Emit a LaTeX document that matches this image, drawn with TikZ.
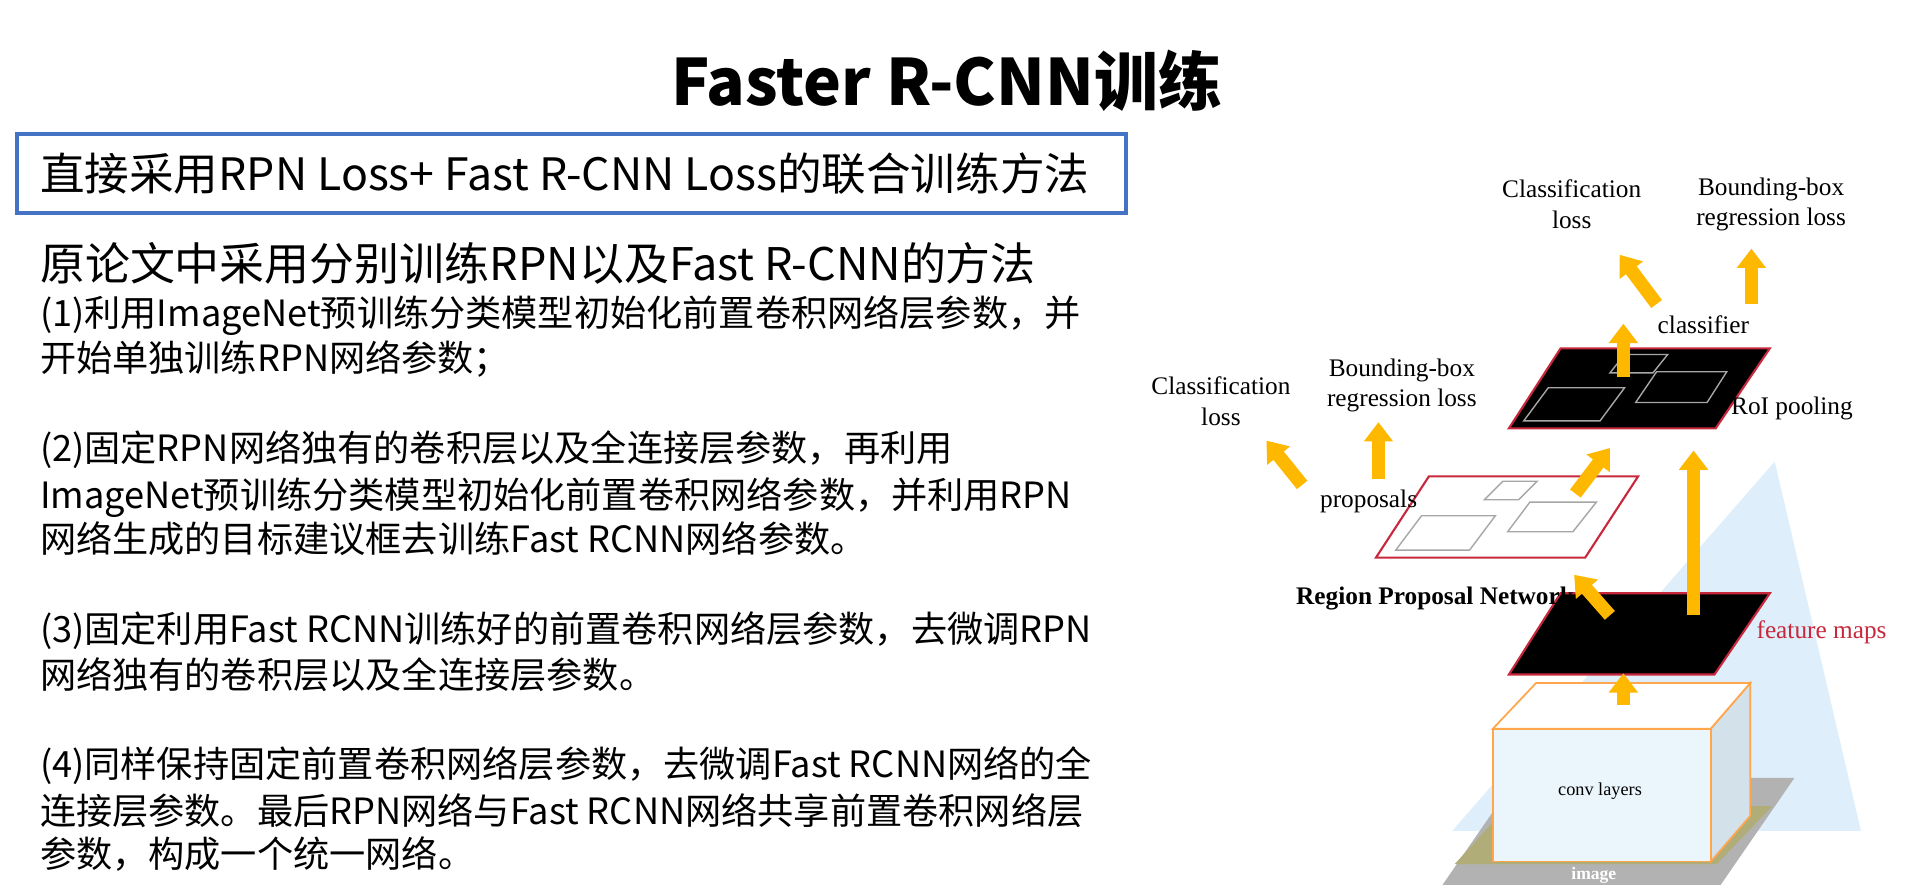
\documentclass[tikz,border=0pt]{standalone}
\usepackage{fontspec}
\setmainfont{Liberation Serif}
\newfontfamily\cjk{Noto Sans CJK SC}
\usepackage{tikz}
\usetikzlibrary{arrows.meta,positioning}
\definecolor{boxblue}{RGB}{68,114,196}
\definecolor{flow}{RGB}{255,184,0}
\definecolor{skyb}{RGB}{222,238,250}
\definecolor{planered}{RGB}{200,40,60}

\begin{document}
\begin{tikzpicture}[x=0.012308cm,y=-0.012308cm,
        body/.style={anchor=west, inner sep=0pt, font=\cjk\fontsize{10.3}{12}\selectfont},
        paper/.style={font=\fontsize{7.2}{8.6}\selectfont, align=center, inner sep=1pt},
        flow_arrow/.style={-{Triangle[width=8pt,length=5.5pt]}, flow, line width=3.8pt},
        dark_plane/.style={fill=black, draw=planered, line width=0.6pt},
        inner_box/.style={draw=gray!70, line width=0.4pt}
    ]
    \useasboundingbox (0,0) rectangle (1560,719);

    % Title
    \node[font=\cjk\bfseries\fontsize{18.2}{20}\selectfont] (title) at (769,66) {Faster R-CNN训练};

    % Box
    \draw[boxblue, line width=1pt] (14,109) rectangle (915,173);
    \node[anchor=west, inner sep=0pt, font=\cjk\fontsize{12.7}{14}\selectfont] (joint) at (32,141)
        {直接采用RPN Loss+ Fast R-CNN Loss的联合训练方法};

    % Steps
    \node[anchor=west, inner sep=0pt, font=\cjk\fontsize{12.8}{14}\selectfont] (orig) at (32,214)
        {原论文中采用分别训练RPN以及Fast R-CNN的方法};
    \node[body] (s1a) at (32,256) {(1)利用ImageNet预训练分类模型初始化前置卷积网络层参数，并};
    \node[body] (s1b) at (32,292) {开始单独训练RPN网络参数；};
    \node[body] (s2a) at (32,365) {(2)固定RPN网络独有的卷积层以及全连接层参数，再利用};
    \node[body] (s2b) at (32,404) {ImageNet预训练分类模型初始化前置卷积网络参数，并利用RPN};
    \node[body] (s2c) at (32,438) {网络生成的目标建议框去训练Fast RCNN网络参数。};
    \node[body] (s3a) at (32,512) {(3)固定利用Fast RCNN训练好的前置卷积网络层参数，去微调RPN};
    \node[body] (s3b) at (32,548) {网络独有的卷积层以及全连接层参数。};
    \node[body] (s4a) at (32,622) {(4)同样保持固定前置卷积网络层参数，去微调Fast RCNN网络的全};
    \node[body] (s4b) at (32,659) {连接层参数。最后RPN网络与Fast RCNN网络共享前置卷积网络层};
    \node[body] (s4c) at (32,694) {参数，构成一个统一网络。};

    % Backdrop: field of view and input image
    \fill[skyb] (1442,375) -- (1512,675) -- (1180,675) -- cycle;
    \fill[gray!60] (1172,719) -- (1398,719) -- (1458,632) -- (1232,632) -- cycle;
    \fill[olive!45!gray!70] (1182,702) -- (1395,702) -- (1440,655) -- (1225,655) -- cycle;
    \node[font=\bfseries\fontsize{5}{6}\selectfont, text=white] (img) at (1295,711) {image};

    % Conv layers
    \draw[orange!70, fill=gray!12!skyb, line width=0.5pt] (1390,592) -- (1422,555) -- (1422,663) -- (1390,700) -- cycle;
    \draw[orange!70, fill=white, line width=0.5pt] (1213,592) -- (1248,555) -- (1422,555) -- (1390,592) -- cycle;
    \draw[orange!70, fill=skyb!60, line width=0.5pt] (1213,592) rectangle (1390,700);
    \node[font=\fontsize{5.2}{6}\selectfont] (conv) at (1300,643) {conv layers};

    % Feature maps
    \draw[dark_plane] (1226,548) -- (1393,548) -- (1438,482) -- (1268,482) -- cycle;
    \node[text=planered, font=\fontsize{7.2}{8}\selectfont] (fmap) at (1480,514) {feature maps};

    % Proposals
    \draw[fill=white, draw=planered, line width=0.6pt] (1118,453) -- (1288,453) -- (1331,387) -- (1161,387) -- cycle;
    \draw[inner_box] (1134,447) -- (1194,447) -- (1215,419) -- (1155,419) -- cycle;
    \draw[inner_box] (1225,432) -- (1278,432) -- (1297,408) -- (1243,408) -- cycle;
    \draw[inner_box] (1206,406) -- (1234,406) -- (1249,391) -- (1221,391) -- cycle;
    \node[paper] (prop) at (1112,407) {proposals};
    \node[paper, font=\bfseries\fontsize{7.2}{8}\selectfont] (rpn) at (1166,486) {Region Proposal Network};

    % RoI pooling
    \draw[dark_plane] (1226,348) -- (1394,348) -- (1438,283) -- (1268,283) -- cycle;
    \draw[inner_box] (1238,342) -- (1300,342) -- (1320,315) -- (1258,315) -- cycle;
    \draw[inner_box] (1329,327) -- (1387,327) -- (1403,302) -- (1346,302) -- cycle;
    \draw[inner_box] (1308,303) -- (1343,303) -- (1355,288) -- (1320,288) -- cycle;
    \node[paper] (roi) at (1456,332) {RoI pooling};
    \node[paper] (cls) at (1384,264) {classifier};

    % Losses
    \node[paper] (rpncls) at (992,326) {Classification\\loss};
    \node[paper] (rpnreg) at (1139,313) {Bounding-box\\regression loss};
    \node[paper] (fcls) at (1277,166) {Classification\\loss};
    \node[paper] (freg) at (1439,166) {Bounding-box\\regression loss};

    % Arrows
    \coordinate (a1) at (1319,573); \coordinate (a1e) at (1319,547);
    \draw[flow_arrow] (a1) -- (a1e);
    \coordinate (a2) at (1308,500); \coordinate (a2e) at (1279,467);
    \draw[flow_arrow] (a2) -- (a2e);
    \coordinate (a3) at (1376,500); \coordinate (a3e) at (1376,366);
    \draw[flow_arrow] (a3) -- (a3e);
    \coordinate (a4) at (1280,401); \coordinate (a4e) at (1308,364);
    \draw[flow_arrow] (a4) -- (a4e);
    \coordinate (a5) at (1058,394); \coordinate (a5e) at (1029,358);
    \draw[flow_arrow] (a5) -- (a5e);
    \coordinate (a6) at (1120,389); \coordinate (a6e) at (1120,343);
    \draw[flow_arrow] (a6) -- (a6e);
    \coordinate (a7) at (1319,306); \coordinate (a7e) at (1319,263);
    \draw[flow_arrow] (a7) -- (a7e);
    \coordinate (a8) at (1346,247); \coordinate (a8e) at (1316,207);
    \draw[flow_arrow] (a8) -- (a8e);
    \coordinate (a9) at (1423,247); \coordinate (a9e) at (1423,202);
    \draw[flow_arrow] (a9) -- (a9e);
\end{tikzpicture}
\end{document}
